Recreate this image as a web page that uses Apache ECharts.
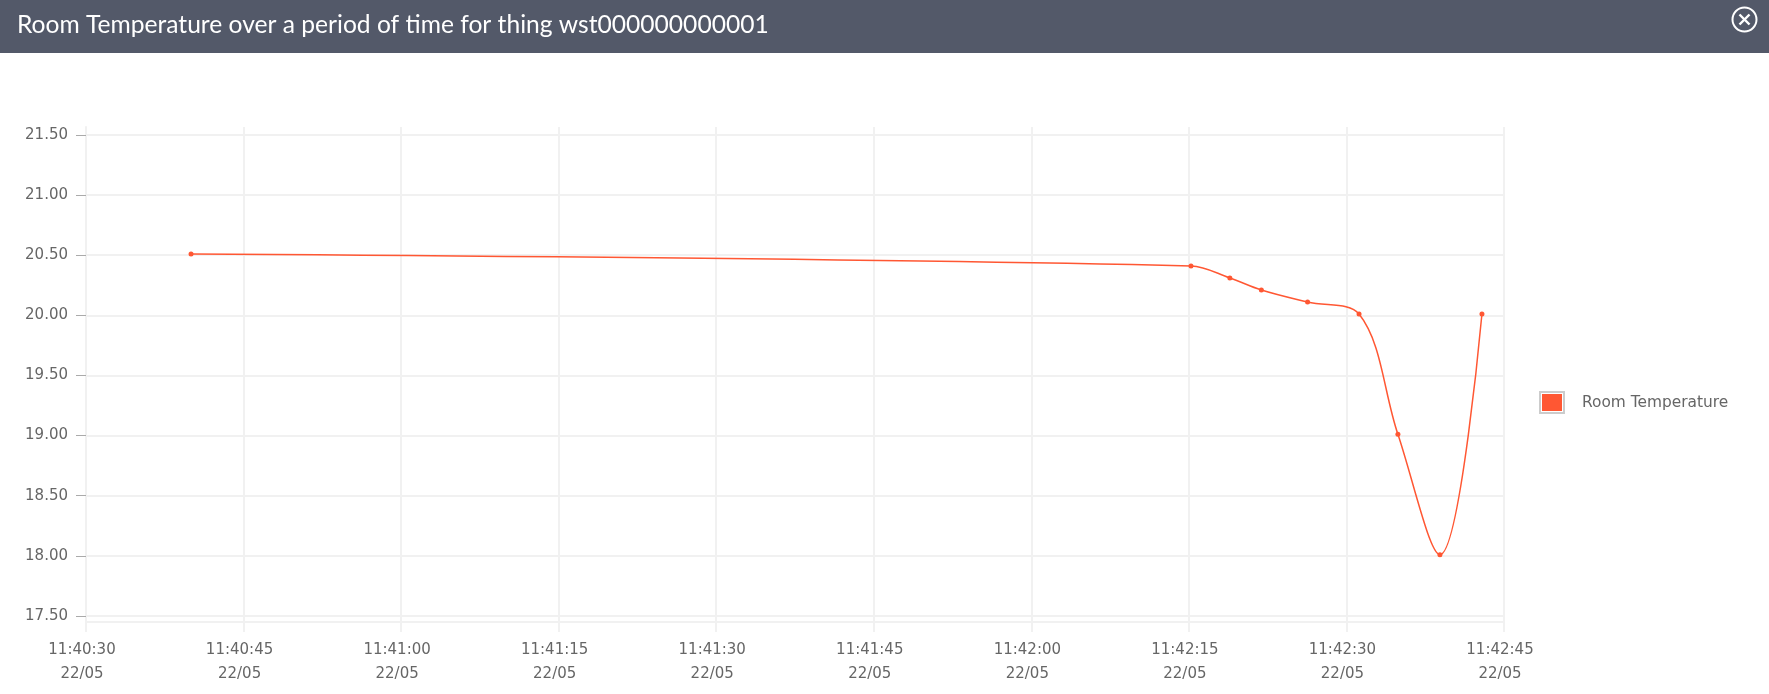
<!DOCTYPE html>
<html>
<head>
<meta charset="utf-8">
<title>Room Temperature</title>
<style>
    html, body { margin: 0; padding: 0; background: #fff; }
    #chart { width: 1769px; height: 694px; }
</style>
<script src="https://cdn.jsdelivr.net/npm/echarts@6/dist/echarts.min.js"></script>
</head>
<body>
<div id="chart"></div>
<script>
const titleText = 'Room Temperature over a period of time for thing wst000000000001';
const seriesName = 'Room Temperature';
const dateLabel = '22/05';

// время в секундах от полуночи, чтобы не зависеть от часового пояса
const readingSeconds = [42040, 42135.2, 42138.9, 42141.9, 42146.3, 42151.2, 42154.9, 42158.9, 42162.9];
const temperatures = [20.51, 20.41, 20.31, 20.21, 20.11, 20.01, 19.01, 18.01, 20.01];
const yTicks = [17.5, 18, 18.5, 19, 19.5, 20, 20.5, 21, 21.5];

const lineColor = '#ff5733';
const textColor = '#666';
const gridColor = '#f1f1f1';
const labelFont = '"DejaVu Sans", sans-serif';

function formatClock(seconds) {
    const h = Math.floor(seconds / 3600);
    const m = Math.floor((seconds % 3600) / 60);
    const s = seconds % 60;
    const pad = function (n) { return String(n).padStart(2, '0'); };
    return `${pad(h)}:${pad(m)}:${pad(s)}\n${dateLabel}`;
}

const chart = echarts.init(document.getElementById('chart'), null, { renderer: 'canvas' });

chart.setOption({
    animation: false,
    backgroundColor: '#fff',
    title: {
        text: titleText,
        left: 17,
        top: 13,
        padding: 0,
        textStyle: {
            color: '#fff',
            fontFamily: 'Lato, sans-serif',
            fontWeight: 'normal',
            fontSize: 24.6
        },
        z: 10
    },
    graphic: [
        {
            type: 'rect',
            z: 1,
            shape: { x: 0, y: 0, width: 1769, height: 53 },
            style: { fill: '#535969' }
        },
        {
            type: 'circle',
            z: 2,
            shape: { cx: 1744.5, cy: 19.5, r: 12 },
            style: { fill: 'transparent', stroke: '#fff', lineWidth: 2 }
        },
        {
            type: 'line',
            z: 2,
            shape: { x1: 1739.5, y1: 14.5, x2: 1749.5, y2: 24.5 },
            style: { stroke: '#fff', lineWidth: 2.4 }
        },
        {
            type: 'line',
            z: 2,
            shape: { x1: 1749.5, y1: 14.5, x2: 1739.5, y2: 24.5 },
            style: { stroke: '#fff', lineWidth: 2.4 }
        },
        {
            // рамка вокруг значка легенды
            type: 'rect',
            z: 2,
            shape: { x: 1540, y: 392, width: 24, height: 21 },
            style: { fill: '#fff', stroke: '#ccc', lineWidth: 2 }
        }
    ],
    legend: {
        orient: 'vertical',
        left: 1542,
        top: 394,
        padding: 0,
        icon: 'rect',
        itemWidth: 20,
        itemHeight: 17,
        data: [seriesName],
        itemStyle: { color: lineColor },
        textStyle: {
            color: textColor,
            fontFamily: labelFont,
            fontSize: 15.4,
            padding: [4, 0, 0, 15]
        },
        z: 5
    },
    grid: {
        left: 86,
        right: 265,
        top: 127,
        height: 495
    },
    xAxis: {
        type: 'value',
        min: 42030,
        max: 42165,
        interval: 15,
        axisLine: { lineStyle: { color: gridColor, width: 2 } },
        axisTick: { length: 10, lineStyle: { color: gridColor, width: 2 } },
        axisLabel: {
            color: textColor,
            fontFamily: labelFont,
            fontSize: 15,
            lineHeight: 24,
            margin: 16,
            padding: [0, 8, 0, 0],
            formatter: formatClock
        },
        splitLine: { show: true, lineStyle: { color: gridColor, width: 2 } }
    },
    yAxis: {
        type: 'value',
        min: 17.45,
        max: 21.565,
        axisLine: { show: true, lineStyle: { color: gridColor, width: 2 } },
        axisTick: {
            show: true,
            length: 10,
            customValues: yTicks,
            lineStyle: { color: '#aaa', width: 1 }
        },
        axisLabel: {
            color: textColor,
            fontFamily: labelFont,
            fontSize: 15,
            margin: 18,
            customValues: yTicks,
            formatter: function (value) {
                return value.toFixed(2);
            }
        },
        splitLine: { show: true, lineStyle: { color: gridColor, width: 2 } }
    },
    series: [
        {
            name: seriesName,
            type: 'line',
            data: readingSeconds.map(function (t, i) {
                return [t, temperatures[i]];
            }),
            smooth: 0.36,
            symbol: 'circle',
            symbolSize: 5,
            showSymbol: true,
            lineStyle: { color: lineColor, width: 1.5 },
            itemStyle: { color: lineColor },
            z: 4
        }
    ]
});

window.addEventListener('resize', function () {
    chart.resize();
});
</script>
</body>
</html>
